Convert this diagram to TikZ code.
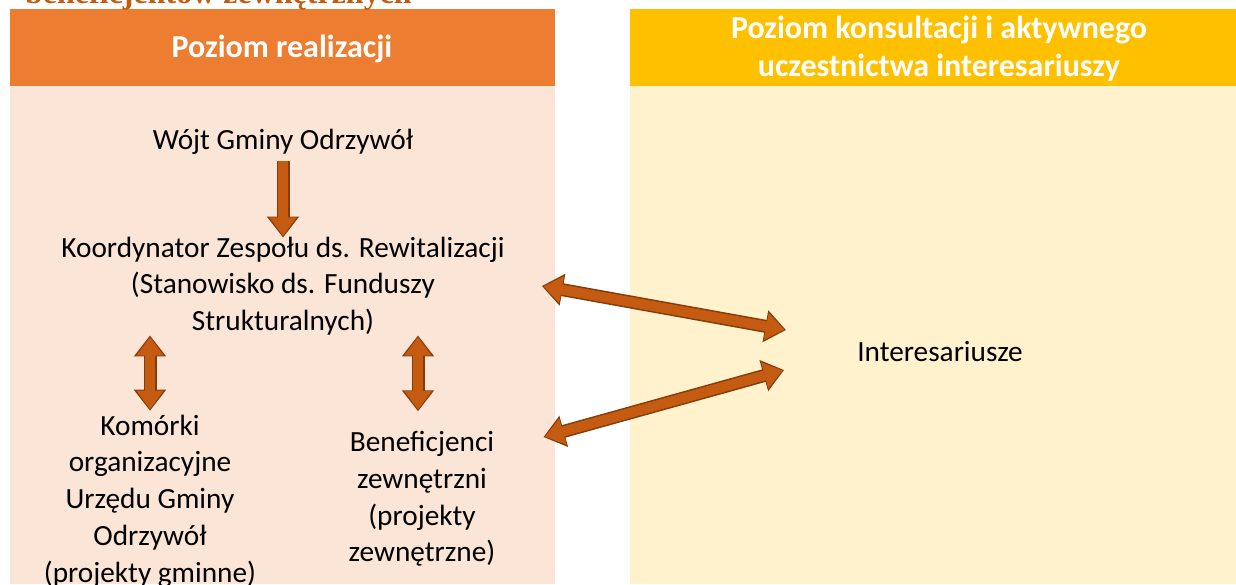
\documentclass[tikz,border=0pt]{standalone}
\usepackage{fontspec}
\setmainfont{Carlito}
\newfontfamily\capfont{Liberation Serif}
\usetikzlibrary{positioning, arrows.meta, calc}
\definecolor{realorange}{RGB}{237, 125, 49}
\definecolor{realpeach}{RGB}{251, 229, 214}
\definecolor{konsyellow}{RGB}{255, 192, 0}
\definecolor{konscream}{RGB}{255, 242, 204}
\definecolor{arrfill}{RGB}{197, 90, 17}
\definecolor{arrline}{RGB}{132, 60, 12}

\begin{document}
\begin{tikzpicture}[x=1pt, y=-1pt,
        txt/.style={inner sep=0pt, align=center, font=\fontsize{29.3}{36.7}\selectfont},
        head/.style={inner sep=0pt, align=center, text=white,
            font=\fontsize{32}{38}\selectfont\bfseries},
        outtip/.tip={Triangle[length=21pt, width=31pt, color=arrline]},
        intip/.tip={Triangle[length=18.5pt, width=26pt, color=arrfill]},
        blockarr/.style={line width=10pt, draw=arrfill, shorten >=1.6pt, -{intip},
            preaction={draw=arrline, line width=13pt, shorten >=0pt, -{outtip}}},
        dblockarr/.style={line width=10pt, draw=arrfill, shorten >=1.6pt, shorten <=1.6pt,
            {intip}-{intip},
            preaction={draw=arrline, line width=13pt, shorten >=0pt, shorten <=0pt,
                {outtip}-{outtip}}}
    ]
    \useasboundingbox (0,0) rectangle (1236,584);

    % panels
    \fill[realorange] (10,9) rectangle (555,86);
    \fill[realpeach] (10,86) rectangle (555,584);
    \fill[konsyellow] (630,9) rectangle (1236,86);
    \fill[konscream] (630,86) rectangle (1236,584);

    \node[anchor=base west, inner sep=0pt, text=arrfill,
          font=\capfont\fontsize{32}{34}\selectfont\bfseries] (cap) at (25,3)
        {beneficjentów zewnętrznych};

    \node[head] (hreal) at (282,49) {Poziom realizacji};
    \node[head] (hkons) at (939,49)
        {Poziom konsultacji i aktywnego\\uczestnictwa interesariuszy};

    \node[txt] (wojt) at (283,142) {Wójt Gminy Odrzywół};
    \node[txt] (koord) at (283,286)
        {Koordynator Zespołu ds. Rewitalizacji\\(Stanowisko ds. Funduszy\\Strukturalnych)};
    \node[txt] (komorki) at (150,501)
        {Komórki\\organizacyjne\\Urzędu Gminy\\Odrzywół\\(projekty gminne)};
    \node[txt] (benef) at (422,499)
        {Beneficjenci\\zewnętrzni\\(projekty\\zewnętrzne)};
    \node[txt] (inter) at (940,352) {Interesariusze};

    % arrows
    \draw[blockarr] ([yshift=-6pt]wojt.south) -- ([yshift=-1pt]koord.north);
    \draw[dblockarr] ([yshift=0pt]koord.south -| komorki.north)
        -- ([yshift=4pt]komorki.north);
    \draw[dblockarr] ([xshift=-4pt, yshift=0pt]koord.south -| benef.north)
        -- ([xshift=-4pt, yshift=20pt]benef.north);
    \draw[dblockarr] ([xshift=37pt]koord.east) -- ([xshift=-71pt, yshift=22pt]inter.west);
    \draw[dblockarr] ([xshift=48pt, yshift=62pt]benef.east)
        -- ([xshift=-73pt, yshift=-18pt]inter.west);
\end{tikzpicture}
\end{document}
